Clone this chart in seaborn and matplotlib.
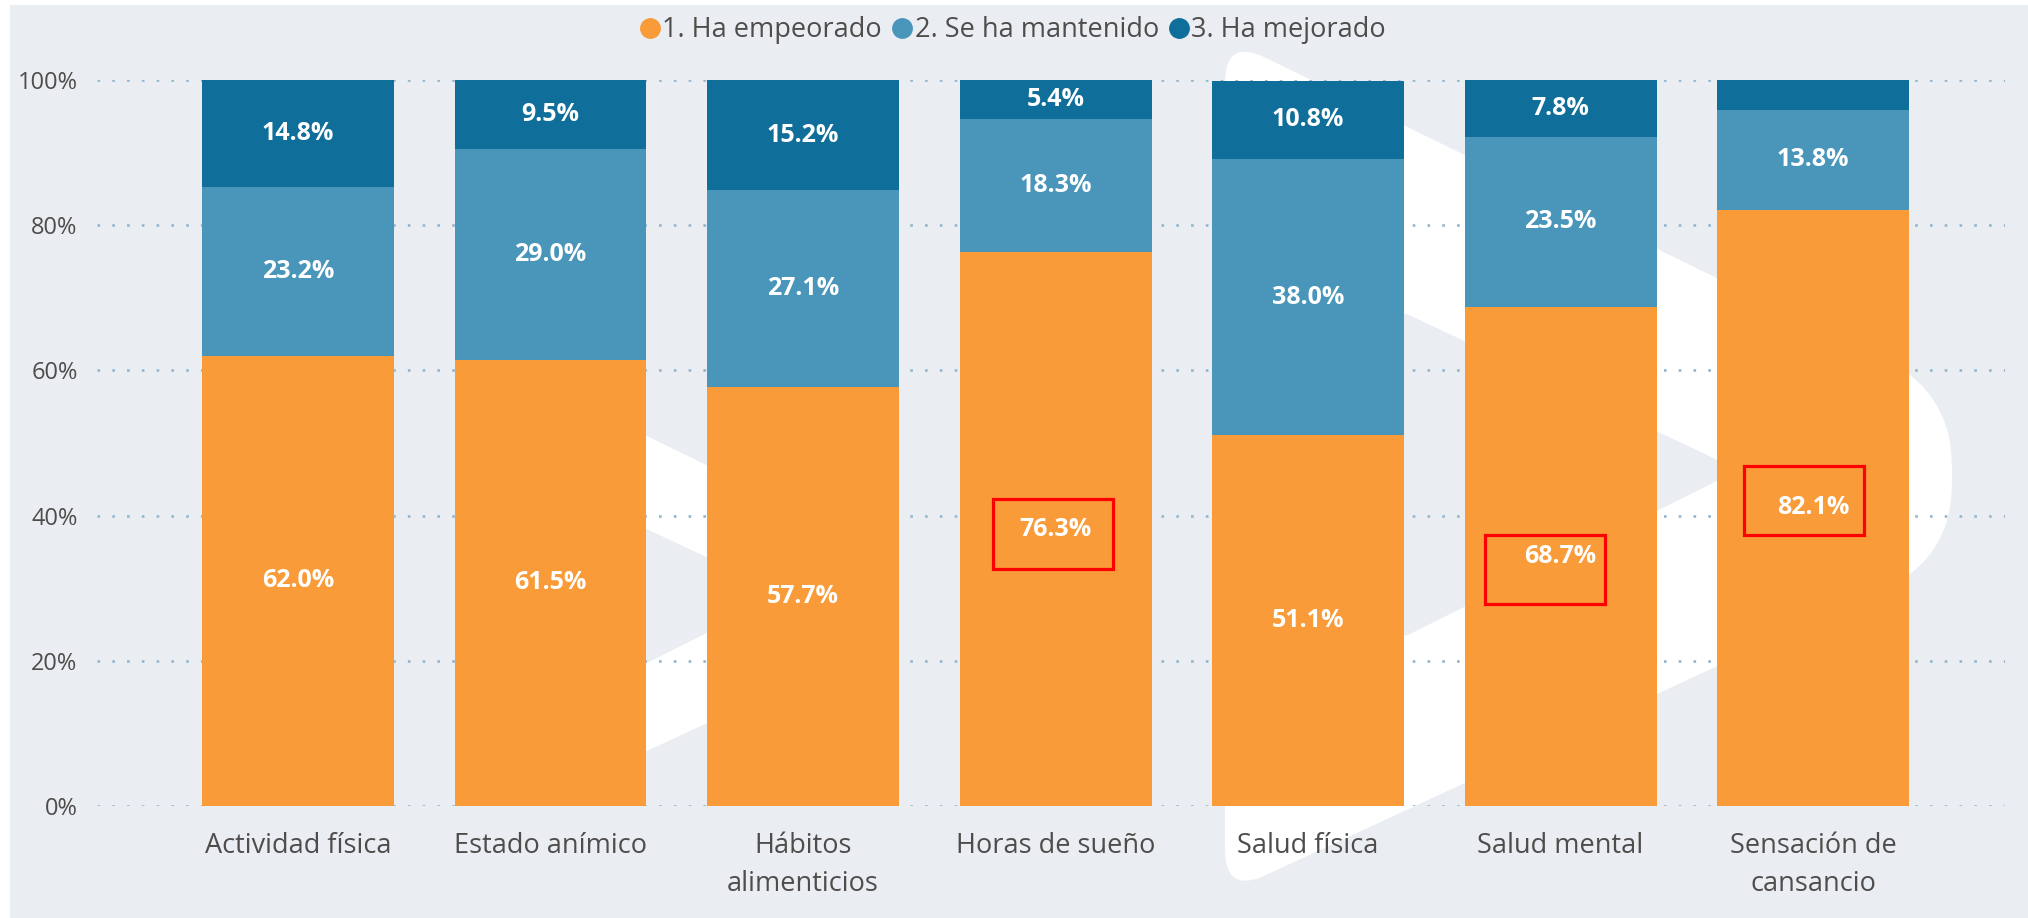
import numpy as np
import pandas as pd
import matplotlib
matplotlib.use("Agg")
import matplotlib.pyplot as plt
import seaborn as sns
from matplotlib.path import Path
from matplotlib.patches import PathPatch, Rectangle
from matplotlib.lines import Line2D

# ---------------- data ----------------
categories = ["Actividad física", "Estado anímico", "Hábitos\nalimenticios",
              "Horas de sueño", "Salud física", "Salud mental",
              "Sensación de\ncansancio"]
empeorado = [62.0, 61.5, 57.7, 76.3, 51.1, 68.7, 82.1]
mantenido = [23.2, 29.0, 27.1, 18.3, 38.0, 23.5, 13.8]
mejorado = [14.8, 9.5, 15.2, 5.4, 10.8, 7.8, 4.1]
series_names = ["1. Ha empeorado", "2. Se ha mantenido", "3. Ha mejorado"]
yticks = [0, 20, 40, 60, 80, 100]
ytick_labels = ["0%", "20%", "40%", "60%", "80%", "100%"]
highlighted = ["Horas de sueño", "Salud mental", "Sensación de\ncansancio"]

# ---------------- style ----------------
C_EMP = "#F89B38"
C_MAN = "#4A96BB"
C_MEJ = "#106F9A"
BG = "#EAEEF3"
TXT = "#4F4D4B"
FONT = ["Open Sans", "DejaVu Sans"]

sns.set_style("white")
plt.rcParams["font.family"] = FONT

W, H = 2028, 918
fig = plt.figure(figsize=(W / 100, H / 100), dpi=100)
fig.patch.set_facecolor("white")

# background layer (pixel coordinates)
ax_bg = fig.add_axes([0, 0, 1, 1], zorder=-1)
ax_bg.set_xlim(0, W)
ax_bg.set_ylim(H, 0)
ax_bg.axis("off")
ax_bg.add_patch(Rectangle((10, 5), W - 10, H - 5, facecolor=BG, edgecolor="none"))


def rounded(pts, radii, n=14):
    out = []
    m = len(pts)
    for i in range(m):
        P = np.array(pts[i - 1], float)
        V = np.array(pts[i], float)
        N = np.array(pts[(i + 1) % m], float)
        r = radii[i]
        a = V + r * (P - V) / np.linalg.norm(P - V)
        b = V + r * (N - V) / np.linalg.norm(N - V)
        for t in np.linspace(0, 1, n):
            out.append((1 - t) ** 2 * a + 2 * (1 - t) * t * V + t ** 2 * b)
    return np.array(out)


outer = [(1225, 38), (1942, 388), (1955, 475), (1942, 562), (1225, 894)]
outer_r = [45, 60, 40, 60, 45]
inner = [(1390, 306), (1739, 470), (1390, 644)]
inner_r = [25, 30, 25]


def logo_path(dx, dy, s):
    o = rounded(outer, outer_r)
    i = rounded(inner, inner_r)[::-1]
    o = np.column_stack([dx + s * (o[:, 0] - 1225), dy + s * (o[:, 1] - 38)])
    i = np.column_stack([dx + s * (i[:, 0] - 1225), dy + s * (i[:, 1] - 38)])
    verts = np.vstack([o, o[:1], i, i[:1]])
    codes = ([Path.MOVETO] + [Path.LINETO] * (len(o) - 1) + [Path.CLOSEPOLY]
             + [Path.MOVETO] + [Path.LINETO] * (len(i) - 1) + [Path.CLOSEPOLY])
    return Path(verts, codes)


ax_bg.add_patch(PathPatch(logo_path(1225, 38, 1.0), facecolor="white", edgecolor="none"))
ax_bg.add_patch(PathPatch(logo_path(528, 378, 0.5), facecolor="white", edgecolor="none"))

# ---------------- main chart ----------------
ax = fig.add_axes([97 / W, 112 / H, 1908 / W, 726 / H], zorder=1)
ax.set_facecolor("none")

df = pd.DataFrame({"cat": categories, "emp": empeorado, "man": mantenido, "mej": mejorado})
df["top2"] = df["emp"] + df["man"]
df["top3"] = df["top2"] + df["mej"]

BW = 0.76
sns.barplot(data=df, x="cat", y="top3", color=C_MEJ, saturation=1, width=BW, ax=ax,
            order=categories, linewidth=0, zorder=2)
sns.barplot(data=df, x="cat", y="top2", color=C_MAN, saturation=1, width=BW, ax=ax,
            order=categories, linewidth=0, zorder=2)
sns.barplot(data=df, x="cat", y="emp", color=C_EMP, saturation=1, width=BW, ax=ax,
            order=categories, linewidth=0, zorder=2)

ax.set_xlim(-0.796, 6.76)
ax.set_ylim(0, 100)
ax.set_xlabel("")
ax.set_ylabel("")
for s in ax.spines.values():
    s.set_visible(False)

ax.set_yticks(yticks)
ax.set_yticklabels(ytick_labels)
ax.tick_params(axis="y", length=0, pad=14, labelsize=17, labelcolor=TXT)
ax.tick_params(axis="x", length=0, pad=19, labelsize=19.5, labelcolor=TXT)
for t in ax.get_xticklabels():
    t.set_linespacing(1.45)
    t.set_verticalalignment("top")

ax.yaxis.grid(True, linestyle=(0, (1, 4.6)), linewidth=1.9, color="#93B6CE", zorder=0)
ax.xaxis.grid(False)
ax.set_axisbelow(True)

# value labels
for i in range(len(categories)):
    segs = [(0, empeorado[i]), (empeorado[i], mantenido[i]),
            (empeorado[i] + mantenido[i], mejorado[i])]
    for base, v in segs:
        if v >= 5:
            ax.text(i, base + v / 2, f"{v:.1f}%", ha="center", va="center",
                    color="white", fontsize=18, fontweight="bold", zorder=5)

# red highlight boxes (annotation: x-offset left/right, y-range)
box_specs = {"Horas de sueño": (-0.248, 0.228, 32.6, 42.3),
             "Salud mental": (-0.299, 0.176, 27.8, 37.3),
             "Sensación de\ncansancio": (-0.273, 0.202, 37.3, 46.8)}
for name in highlighted:
    i = categories.index(name)
    x0, x1, y0, y1 = box_specs[name]
    ax.add_patch(Rectangle((i + x0, y0), x1 - x0, y1 - y0, fill=False,
                           edgecolor="#FF0000", linewidth=2.3, zorder=6))

# legend
handles = [Line2D([0], [0], marker="o", linestyle="none", markersize=14,
                  markerfacecolor=c, markeredgecolor=c)
           for c in (C_EMP, C_MAN, C_MEJ)]
fig.legend(handles, series_names, loc="center", bbox_to_anchor=(1012 / W, 1 - 30 / H),
           ncol=3, frameon=False, handletextpad=0.0, columnspacing=0.3,
           handlelength=0.9, fontsize=19.5, labelcolor=TXT)

fig.savefig("out.png", dpi=100, facecolor=fig.get_facecolor())
